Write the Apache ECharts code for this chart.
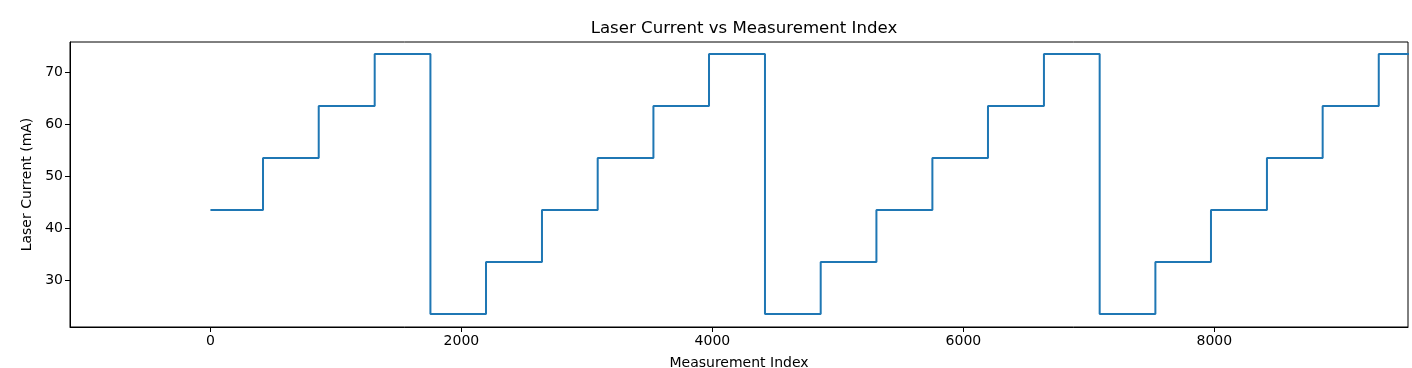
<!DOCTYPE html>
<html>
<head>
<meta charset="utf-8">
<script src="https://cdn.jsdelivr.net/npm/echarts@6/dist/echarts.min.js"></script>
<style>html,body{margin:0;padding:0;background:#fff}#chart{width:1412px;height:368px}</style>
</head>
<body>
<div id="chart"></div>
<script>
// Measurement index where each current level begins
const stepStarts = [0, 419, 863, 1309, 1753, 2196, 2642, 3086, 3530, 3973, 4419, 4863, 5307, 5753, 6196, 6642, 7086, 7530, 7973, 8419, 8863, 9310];
// Laser current level (mA) for each step
const stepValues = [43.5, 53.5, 63.5, 73.5, 23.5, 33.5, 43.5, 53.5, 63.5, 73.5, 23.5, 33.5, 43.5, 53.5, 63.5, 73.5, 23.5, 33.5, 43.5, 53.5, 63.5, 73.5];
const lastIndex = 9600;
const xTicks = [0, 2000, 4000, 6000, 8000];
const yTicks = [30, 40, 50, 60, 70];

const data = stepStarts.map((x, i) => [x, stepValues[i]]);
data.push([lastIndex, stepValues[stepValues.length - 1]]);

const font = 'DejaVu Sans';
const chart = echarts.init(document.getElementById('chart'), null, {renderer: 'canvas'});
chart.setOption({
  animation: false,
  title: {
    text: 'Laser Current vs Measurement Index',
    left: 739, top: 15, textAlign: 'center',
    textStyle: {fontFamily: font, fontSize: 16.6, fontWeight: 'normal', color: '#000'}
  },
  grid: {left: 70, right: 4, top: 42, bottom: 41, outerBoundsMode: 'none', containLabel: false,
         show: true, borderColor: '#000', borderWidth: 1, backgroundColor: 'transparent'},
  xAxis: {
    type: 'value', min: -1119, max: 9543,
    name: 'Measurement Index', nameLocation: 'middle', nameGap: 29,
    nameTextStyle: {fontFamily: font, fontSize: 14, color: '#000'},
    axisLine: {show: true, onZero: false, lineStyle: {color: '#000', width: 1}},
    axisTick: {show: true, length: 5, lineStyle: {color: '#000'}, customValues: xTicks},
    axisLabel: {fontFamily: font, fontSize: 14, color: '#000', margin: 7, customValues: xTicks,
                formatter: v => String(v)},
    splitLine: {show: false}
  },
  yAxis: {
    type: 'value', min: 21.0, max: 75.8,
    name: 'Laser Current (mA)', nameLocation: 'middle', nameGap: 32, nameRotate: 90,
    nameTextStyle: {fontFamily: font, fontSize: 14, color: '#000'},
    axisLine: {show: true, onZero: false, lineStyle: {color: '#000', width: 1}},
    axisTick: {show: true, length: 5, lineStyle: {color: '#000'}, customValues: yTicks},
    axisLabel: {fontFamily: font, fontSize: 14, color: '#000', margin: 7, customValues: yTicks,
                formatter: v => String(v)},
    splitLine: {show: false}
  },
  series: [{
    type: 'line', step: 'end', data: data, showSymbol: false, clip: true,
    lineStyle: {color: '#1f77b4', width: 2}
  }]
});
</script>
</body>
</html>
